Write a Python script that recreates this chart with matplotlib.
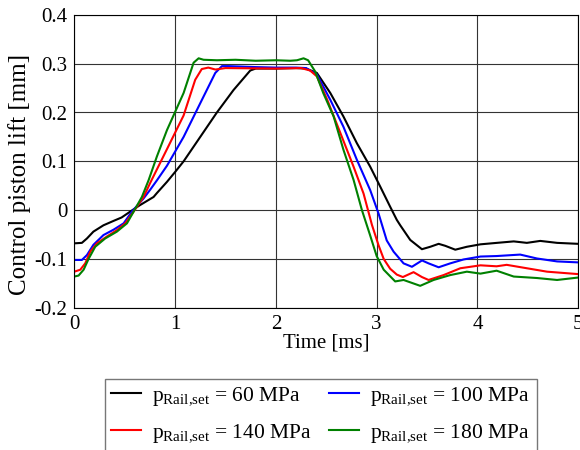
import numpy as np
import matplotlib
matplotlib.use("Agg")
import matplotlib.pyplot as plt

plt.rcParams['font.family'] = ['Liberation Serif', 'DejaVu Serif']
plt.rcParams['mathtext.fontset'] = 'custom'
plt.rcParams['mathtext.rm'] = 'Liberation Serif'

# time [ms] and control piston lift [mm]
t_60 = [0, 0.076, 0.126, 0.19, 0.29, 0.39, 0.47, 0.555, 0.65, 0.787, 0.82, 0.92, 1.0, 1.085,
        1.25, 1.415, 1.58, 1.746, 1.8, 2.0, 2.2, 2.3, 2.407, 2.54, 2.67, 2.804, 2.936, 3.036,
        3.134, 3.2, 3.234, 3.333, 3.449, 3.532, 3.615, 3.68, 3.78, 3.895, 4.03, 4.193, 4.36,
        4.49, 4.623, 4.79, 5.0]
y_60 = [-0.068, -0.067, -0.058, -0.044, -0.031, -0.022, -0.015, -0.003, 0.01, 0.027, 0.035, 0.058, 0.078, 0.1,
        0.15, 0.2, 0.246, 0.286, 0.29, 0.29, 0.291, 0.29, 0.281, 0.24, 0.192, 0.137, 0.089, 0.048,
        0.007, -0.02, -0.031, -0.061, -0.08, -0.075, -0.069, -0.073, -0.081, -0.075, -0.07, -0.067, -0.064,
        -0.067, -0.063, -0.067, -0.069]

t_100 = [0, 0.076, 0.126, 0.19, 0.29, 0.39, 0.49, 0.572, 0.688, 0.754, 0.82, 0.92, 1.085, 1.25,
         1.399, 1.465, 1.53, 1.8, 2.0, 2.2, 2.3, 2.407, 2.54, 2.67, 2.804, 2.936, 3.019, 3.1,
         3.168, 3.267, 3.35, 3.45, 3.515, 3.615, 3.73, 3.862, 4.03, 4.19, 4.424, 4.59, 4.79, 5.0]
y_100 = [-0.102, -0.102, -0.092, -0.071, -0.051, -0.04, -0.027, -0.003, 0.024, 0.042, 0.061, 0.091, 0.15, 0.219,
         0.281, 0.295, 0.295, 0.293, 0.292, 0.292, 0.291, 0.278, 0.226, 0.171, 0.103, 0.041, -0.007, -0.062,
         -0.085, -0.109, -0.116, -0.103, -0.109, -0.117, -0.109, -0.101, -0.095, -0.094, -0.091, -0.099, -0.105, -0.107]

t_140 = [0, 0.06, 0.109, 0.159, 0.225, 0.324, 0.423, 0.506, 0.589, 0.688, 0.754, 0.92, 1.085, 1.2,
         1.265, 1.33, 1.40, 1.5, 2.0, 2.25, 2.34, 2.407, 2.51, 2.64, 2.771, 2.87, 2.953, 3.019,
         3.07, 3.134, 3.2, 3.26, 3.366, 3.449, 3.515, 3.664, 3.83, 4.03, 4.19, 4.29, 4.49, 4.69, 5.0]
y_140 = [-0.126, -0.122, -0.109, -0.085, -0.068, -0.054, -0.041, -0.027, -0.003, 0.027, 0.056, 0.125, 0.194, 0.267,
         0.289, 0.292, 0.288, 0.291, 0.29, 0.291, 0.286, 0.274, 0.226, 0.158, 0.089, 0.034, -0.03, -0.072,
         -0.1, -0.12, -0.132, -0.137, -0.127, -0.137, -0.143, -0.133, -0.119, -0.113, -0.115, -0.112, -0.119, -0.126, -0.131]

t_180 = [0, 0.043, 0.093, 0.142, 0.208, 0.307, 0.423, 0.523, 0.589, 0.671, 0.737, 0.82, 0.92, 1.085,
         1.184, 1.234, 1.283, 1.415, 1.6, 1.8, 2.0, 2.143, 2.21, 2.275, 2.32, 2.39, 2.47, 2.573,
         2.67, 2.771, 2.854, 2.936, 3.0, 3.07, 3.184, 3.267, 3.432, 3.565, 3.73, 3.895, 4.03, 4.19,
         4.36, 4.59, 4.79, 5.0]
y_180 = [-0.136, -0.134, -0.122, -0.1, -0.075, -0.058, -0.044, -0.027, -0.003, 0.027, 0.061, 0.11, 0.164, 0.24,
         0.302, 0.311, 0.308, 0.307, 0.308, 0.306, 0.307, 0.306, 0.307, 0.311, 0.307, 0.284, 0.24, 0.192,
         0.124, 0.062, 0.0, -0.052, -0.094, -0.122, -0.146, -0.143, -0.155, -0.143, -0.133, -0.126, -0.13, -0.124,
         -0.136, -0.139, -0.143, -0.138]

series = [(t_60, y_60, 'black', '60'), (t_100, y_100, 'blue', '100'),
          (t_140, y_140, 'red', '140'), (t_180, y_180, 'green', '180')]

fig = plt.figure(figsize=(5.8, 4.5), dpi=100)
ax = fig.add_axes([0.128, 0.316, 0.869, 0.651])

for t, y, c, p in series:
    ax.plot(t, y, color=c, lw=1.5, label=r'p$_{\rm Rail{,}set}$ = ' + p + ' MPa')

ax.set_xlim(0, 5)
ax.set_ylim(-0.2, 0.4)
ax.set_xticks([0, 1, 2, 3, 4, 5])
ax.set_yticks([-0.2, -0.1, 0, 0.1, 0.2, 0.3, 0.4])
ax.set_xticklabels(['0', '1', '2', '3', '4', '5'])
ax.set_yticklabels(['-0.2', '-0.1', '0', '0.1', '0.2', '0.3', '0.4'])
ax.tick_params(labelsize=15, direction='in', length=0, pad=5)
ax.grid(True, color='#333333', lw=0.8)
ax.set_axisbelow(True)
ax.set_xlabel('Time [ms]', fontsize=15, labelpad=0)
ax.set_ylabel('Control piston lift [mm]', fontsize=18)
ax.yaxis.set_label_coords(-0.085, 0.455)

# legend: 60, 100 on top row; 140, 180 below
h, l = ax.get_legend_handles_labels()
order = [0, 2, 1, 3]
leg = fig.legend([h[i] for i in order], [l[i] for i in order], ncol=2,
                 loc='upper center', bbox_to_anchor=(0.553, 0.182),
                 fontsize=15.5, frameon=True, fancybox=False, edgecolor='#555555',
                 handlelength=1.4, columnspacing=0.8, labelspacing=0.7,
                 handletextpad=0.5, borderpad=0.3)
leg.get_frame().set_linewidth(1.0)

fig.savefig('out.png', dpi=100)
